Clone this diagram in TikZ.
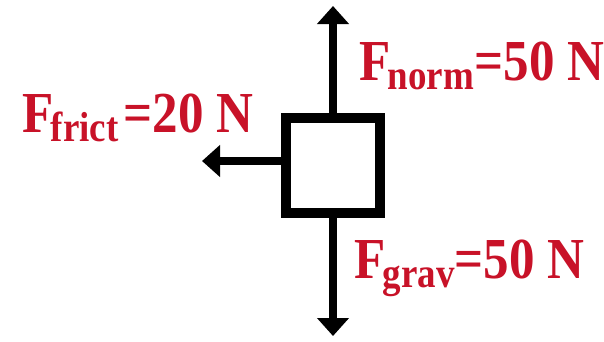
\documentclass[tikz,border=0pt]{standalone}
\usepackage{fontspec}
\setmainfont{Liberation Serif}
\usetikzlibrary{arrows.meta}
\definecolor{lab}{RGB}{200,18,40}
\newcommand{\flab}[2]{\scalebox{0.88}[1]{\bfseries\fontsize{58}{58}\selectfont F\kern-3pt\raisebox{-9pt}{\fontsize{42}{42}\selectfont #1}#2}}
\begin{document}
\begin{tikzpicture}[x=1pt,y=-1pt,
  force/.style={line width=8pt,-{Triangle[width=31pt,length=18pt]}},
  lbl/.style={text=lab,inner sep=0pt,anchor=base west}]
\useasboundingbox (0,0) rectangle (604,341);
\node[draw,line width=10pt,minimum width=94.5pt,minimum height=95pt,inner sep=0pt] (box) at (333,165.5) {};
\coordinate (ut) at (333,6);
\coordinate (dt) at (333,336);
\coordinate (lt) at (202,161);
\draw[force] (box.north) -- (ut);
\draw[force] (box.south) -- (dt);
\draw[force] (box.west |- lt) -- (lt);
\node[lbl] (fn) at (359,80) {\flab{norm}{\kern1pt=50 N}};
\node[lbl] (ff) at (22,132) {\flab{frict}{\kern6pt=20 N}};
\node[lbl] (fg) at (354,278) {\flab{grav}{=50 N}};
\end{tikzpicture}
\end{document}
